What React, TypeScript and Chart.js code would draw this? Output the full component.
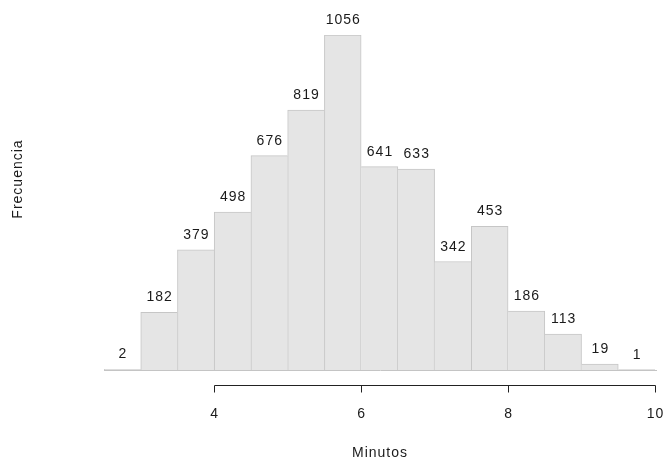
import React, { useEffect, useRef } from "react";
import { Chart, registerables } from "chart.js";

Chart.register(...registerables);

// Histogram bins (minutes): bin centers, each bin 0.5 wide, from 2.5 to 10
const binMids = [2.75, 3.25, 3.75, 4.25, 4.75, 5.25, 5.75, 6.25, 6.75, 7.25, 7.75, 8.25, 8.75, 9.25, 9.75];
const frequencies = [2, 182, 379, 498, 676, 819, 1056, 641, 633, 342, 453, 186, 113, 19, 1];
const xTicks = [4, 6, 8, 10];
const xMin = 2.5;
const xMax = 10;
const xTitle = "Minutos";
const yTitle = "Frecuencia";

const FONT = '14px "Liberation Sans", Arial, Helvetica, sans-serif';
const TEXT = "#1a1a1a";

const overlayPlugin = {
  id: "histOverlay",
  afterDatasetsDraw(chart: any) {
    const ctx = chart.ctx as CanvasRenderingContext2D;
    const xs = chart.scales.x;
    const ys = chart.scales.y;
    const area = chart.chartArea;
    ctx.save();
    // baseline
    const y0 = Math.round(ys.getPixelForValue(0)) + 0.5;
    ctx.strokeStyle = "#c4c4c4";
    ctx.lineWidth = 1;
    ctx.beginPath();
    ctx.moveTo(area.left, y0);
    ctx.lineTo(area.right + 2, y0);
    ctx.stroke();

    // value labels
    ctx.font = FONT;
    (ctx as any).letterSpacing = "1px";
    ctx.fillStyle = TEXT;
    ctx.textAlign = "center";
    ctx.textBaseline = "alphabetic";
    const meta = chart.getDatasetMeta(0);
    meta.data.forEach((bar: any, i: number) => {
      ctx.fillText(String(frequencies[i]), bar.x + 0.5, bar.y - 11);
    });

    // x axis (R style: from first to last tick)
    const axisY = y0 + 15;
    const xa = Math.round(xs.getPixelForValue(xTicks[0])) + 0.5;
    const xb = Math.round(xs.getPixelForValue(xTicks[xTicks.length - 1])) + 0.5;
    ctx.strokeStyle = "#222";
    ctx.beginPath();
    ctx.moveTo(xa, axisY);
    ctx.lineTo(xb, axisY);
    xTicks.forEach((t) => {
      const px = Math.round(xs.getPixelForValue(t)) + 0.5;
      ctx.moveTo(px, axisY);
      ctx.lineTo(px, axisY + 7);
    });
    ctx.stroke();
    xTicks.forEach((t) => {
      const px = xs.getPixelForValue(t);
      ctx.fillText(String(t), px + 0.5, 418);
    });

    // axis titles
    ctx.fillText(xTitle, (area.left + area.right) / 2 + 0.5, 457);
    ctx.translate(22, 179);
    ctx.rotate(-Math.PI / 2);
    ctx.fillText(yTitle, 0, 0);
    ctx.restore();
  },
};

export default function App() {
  const ref = useRef<HTMLCanvasElement | null>(null);
  useEffect(() => {
    if (!ref.current) return;
    const n = frequencies.length;
    const chart = new Chart(ref.current, {
      type: "bar",
      data: {
        datasets: [
          {
            data: binMids.map((x, i) => ({ x, y: frequencies[i] })),
            backgroundColor: "#e5e5e5",
            borderColor: "#c6c6c6",
            borderWidth: (c: any) => {
              const i = c.dataIndex;
              const cur = frequencies[i];
              const prev = i > 0 ? frequencies[i - 1] : -1;
              const next = i < n - 1 ? frequencies[i + 1] : -1;
              return {
                top: 1,
                bottom: 0,
                left: i === 0 || prev <= cur ? 1 : 0,
                right: i === n - 1 || next < cur ? 1 : 0,
              };
            },
            borderSkipped: false,
            barPercentage: 1,
            categoryPercentage: 1,
          } as any,
        ],
      },
      options: {
        responsive: false,
        animation: false,
        layout: { padding: { left: 104, right: 11, top: 35, bottom: 91 } },
        plugins: { legend: { display: false }, tooltip: { enabled: false } },
        scales: {
          x: {
            type: "linear",
            display: false,
            offset: false,
            grid: { offset: false },
            min: xMin,
            max: xMax,
            afterBuildTicks: (s: any) => {
              s.ticks = xTicks.map((v) => ({ value: v }));
            },
          },
          y: { display: false, min: 0, max: 1056 },
        },
      },
      plugins: [overlayPlugin],
    });
    return () => chart.destroy();
  }, []);
  return (
    <div style={{ position: "absolute", left: 0, top: 0, width: 666, height: 461, background: "#fff" }}>
      <canvas ref={ref} width={666} height={461} style={{ display: "block", width: 666, height: 461 }} />
    </div>
  );
}
